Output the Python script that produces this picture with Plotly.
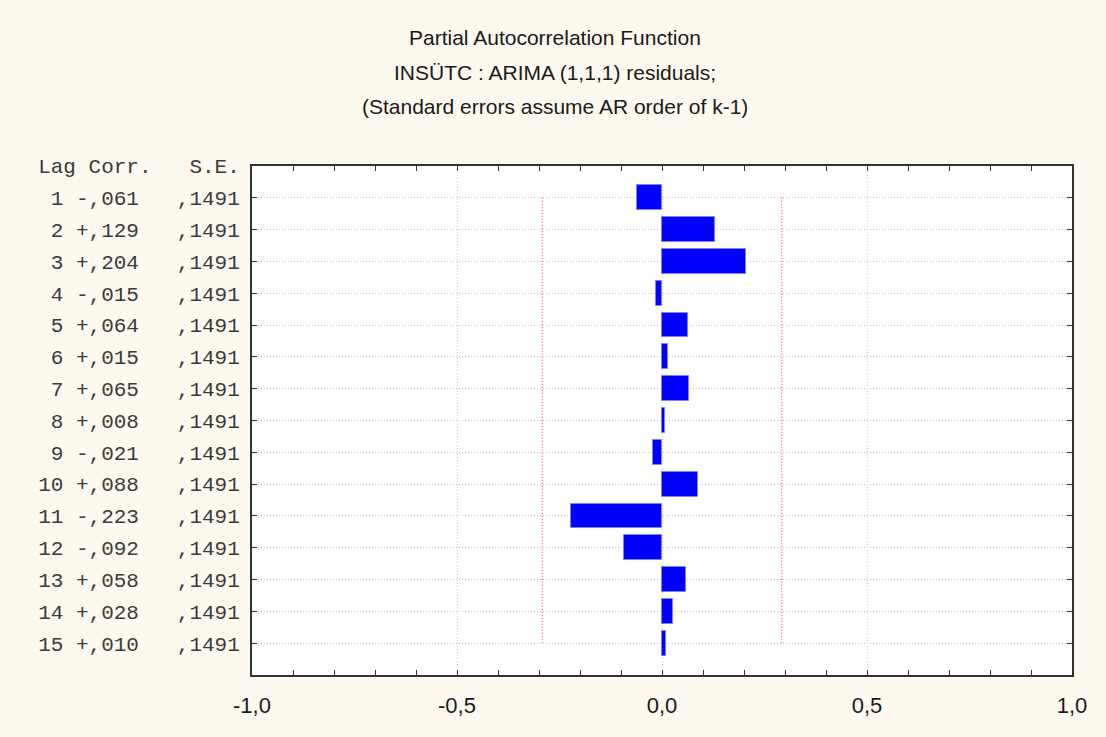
import plotly.graph_objects as go

# Partial autocorrelations of ARIMA(1,1,1) residuals, lags 1..15
lags = list(range(1, 16))
pacf = [-0.061, 0.129, 0.204, -0.015, 0.064, 0.015, 0.065, 0.008,
        -0.021, 0.088, -0.223, -0.092, 0.058, 0.028, 0.010]
std_err = [0.1491] * 15
conf_limit = 0.2922  # 1.96 * S.E.

x_ticks = [-1.0, -0.5, 0.0, 0.5, 1.0]
x_tick_text = ["-1,0", "-0,5", "0,0", "0,5", "1,0"]
title_lines = [
    "Partial Autocorrelation Function",
    "INSÜTC : ARIMA (1,1,1) residuals;",
    "(Standard errors assume AR order of k-1)",
]


def fmt_corr(v):
    s = f"{abs(v):.3f}".replace("0.", ",", 1)
    return ("-" if v < 0 else "+") + s


def fmt_se(v):
    return f"{v:.4f}".replace("0.", ",", 1)


row_labels = [f"{lag:>2} {fmt_corr(c)}   {fmt_se(se)}"
              for lag, c, se in zip(lags, pacf, std_err)]
header = "Lag Corr.   S.E."

fig = go.Figure()

fig.add_trace(go.Bar(
    x=pacf, y=lags, orientation="h", width=0.78,
    marker=dict(color="#0000FF", line=dict(color="#7f7fff", width=1)),
    showlegend=False, hoverinfo="x+y",
))

for cl in (-conf_limit, conf_limit):
    fig.add_trace(go.Scatter(
        x=[cl, cl], y=[lags[0], lags[-1]], mode="lines",
        line=dict(color="#ff3030", width=1, dash="1px,2px"),
        showlegend=False, hoverinfo="skip",
    ))

L, R, T, B = 252, 34, 166, 62
W, H = 1106, 737
plot_h = H - T - B
sans = "Liberation Sans Narrow, Liberation Sans, Arial"

annotations = []
for txt, ypx in zip(title_lines, [37, 72, 106]):
    annotations.append(dict(
        text=txt, xref="paper", yref="paper",
        x=(555 - L) / (W - L - R), y=(H - B - ypx) / plot_h,
        xanchor="center", yanchor="middle", showarrow=False,
        font=dict(family=sans, size=21, color="#1a1a1a"),
    ))

fig.update_layout(
    width=W, height=H,
    margin=dict(l=L, r=R, t=T, b=B, pad=0),
    paper_bgcolor="#fef9ee",
    plot_bgcolor="#ffffff",
    separators=", ",
    annotations=annotations,
    bargap=0,
)

fig.update_xaxes(
    range=[-1.0, 1.0], tickvals=x_ticks, ticktext=x_tick_text,
    ticks="inside", ticklen=5, tickcolor="#333", mirror="ticks",
    showline=True, linecolor="#333", linewidth=2,
    showgrid=True, gridcolor="#d0d0d0", griddash="1px,2px", gridwidth=1,
    zeroline=False,
    minor=dict(dtick=0.1, ticks="inside", ticklen=5, tickcolor="#333", showgrid=False),
    tickfont=dict(family=sans, size=22, color="#1a1a1a"),
    ticklabelstandoff=10,
)

fig.update_yaxes(
    range=[16, 0], tickvals=[0] + lags, ticktext=[header] + row_labels,
    ticks="inside", ticklen=5, tickcolor="#333", mirror="ticks",
    showline=True, linecolor="#333", linewidth=2,
    showgrid=True, gridcolor="#c0c0c0", griddash="1px,2px", gridwidth=1,
    zeroline=False,
    tickfont=dict(family="Liberation Mono, DejaVu Sans Mono, monospace", size=21, color="#3a3a3a"),
    ticklabelstandoff=6,
)

fig.write_html("out.html")
